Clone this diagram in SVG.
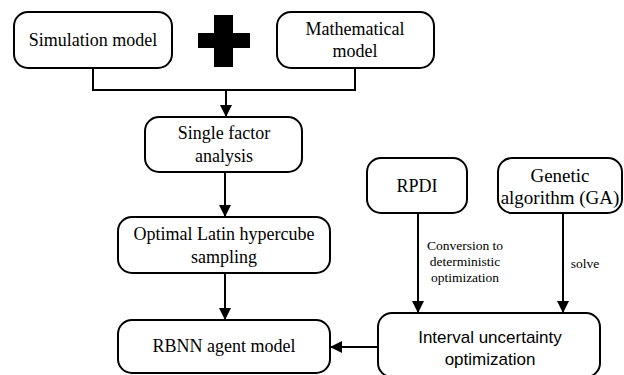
<svg xmlns="http://www.w3.org/2000/svg" width="624" height="375" viewBox="0 0 624 375">
<defs>
<marker id="ah" viewBox="0 0 12 12" refX="12" refY="6" markerWidth="12" markerHeight="12" markerUnits="userSpaceOnUse" orient="auto">
<path d="M0,0 L12,6 L0,12 Z" fill="#000"/>
</marker>
<style>
.box{fill:#fff;stroke:#000;stroke-width:2}
.t{font-family:"Liberation Serif","Times New Roman",serif;font-size:18px;fill:#000;text-anchor:middle}
.s{font-family:"Liberation Serif","Times New Roman",serif;font-size:13.5px;fill:#000;text-anchor:middle}
.sans{font-family:"Liberation Sans",Arial,sans-serif;font-size:17px;fill:#000;text-anchor:middle}
.c{fill:none;stroke:#000;stroke-width:2}
</style>
</defs>
<rect width="624" height="375" fill="#fff"/>
<g id="connectors">
<path class="c" d="M93,68 V90 H355 V68"/>
<path class="c" d="M226,90 V117" marker-end="url(#ah)"/>
<path class="c" d="M225,172 V217" marker-end="url(#ah)"/>
<path class="c" d="M225,273 V320" marker-end="url(#ah)"/>
<path class="c" d="M418,213 V313" marker-end="url(#ah)"/>
<path class="c" d="M563,213 V313" marker-end="url(#ah)"/>
<path class="c" d="M378,347 H330" marker-end="url(#ah)"/>
<text class="s" x="465" y="250">Conversion to</text>
<text class="s" x="465" y="266">deterministic</text>
<text class="s" x="465" y="282">optimization</text>
<text class="s" x="585" y="268">solve</text>
</g>
<g id="plus">
<rect x="214" y="15" width="19" height="52" fill="#000"/>
<rect x="198" y="33" width="52" height="15" fill="#000"/>
</g>
<g id="simulation">
<rect class="box" x="14" y="12" width="158" height="56" rx="14"/>
<text class="t" x="93" y="46">Simulation model</text>
</g>
<g id="mathematical">
<rect class="box" x="277" y="12" width="157" height="56" rx="14"/>
<text class="t" x="355" y="35">Mathematical</text>
<text class="t" x="355" y="57">model</text>
</g>
<g id="single">
<rect class="box" x="145" y="117" width="157" height="55" rx="14"/>
<text class="t" x="224" y="139">Single factor</text>
<text class="t" x="224" y="162">analysis</text>
</g>
<g id="olhs">
<rect class="box" x="118" y="217" width="212" height="56" rx="14"/>
<text class="t" x="224" y="240">Optimal Latin hypercube</text>
<text class="t" x="224" y="263">sampling</text>
</g>
<g id="rbnn">
<rect class="box" x="118" y="320" width="212" height="53" rx="14"/>
<text class="t" x="224" y="352">RBNN agent model</text>
</g>
<g id="rpdi">
<rect class="box" x="367" y="158" width="100" height="55" rx="14"/>
<text class="t" x="417" y="192">RPDI</text>
</g>
<g id="ga">
<rect class="box" x="498" y="158" width="124" height="55" rx="14"/>
<text class="t" x="560" y="182" style="font-size:19px">Genetic</text>
<text class="t" x="560" y="204" style="font-size:19px">algorithm (GA)</text>
</g>
<g id="interval">
<rect class="box" x="378" y="313" width="222" height="64" rx="14"/>
<text class="sans" x="490" y="343">Interval uncertainty</text>
<text class="sans" x="490" y="365">optimization</text>
</g>
</svg>
